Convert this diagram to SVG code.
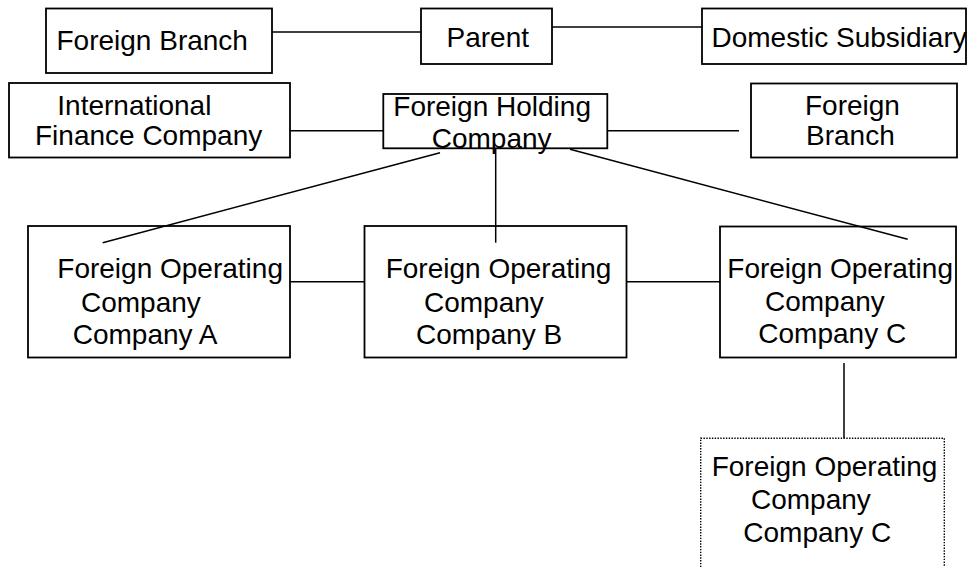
<svg xmlns="http://www.w3.org/2000/svg" width="970" height="567" viewBox="0 0 970 567">
<style>
.box{fill:#fff;stroke:#000;stroke-width:1.8}
.dot{fill:#fff;stroke:#000;stroke-width:1.4;stroke-dasharray:1.4 1.4}
.ln{stroke:#000;stroke-width:1.5;fill:none}
text{font-family:"Liberation Sans",Arial,sans-serif;font-size:28px;fill:#000}
</style>
<rect x="0" y="0" width="970" height="567" fill="#fff"/>
<g id="n-foreign-branch-top">
<rect class="box" x="46" y="8.5" width="226" height="64.5"/>
<text x="56.5" y="50">Foreign Branch</text>
</g>
<g id="n-parent">
<rect class="box" x="421" y="8.5" width="131" height="55.5"/>
<text x="446.5" y="47">Parent</text>
</g>
<g id="n-domestic">
<rect class="box" x="702" y="8.5" width="264" height="55.5"/>
<text x="711.5" y="47">Domestic Subsidiary</text>
</g>
<g id="n-ifc">
<rect class="box" x="9" y="83" width="281" height="74.5"/>
<text x="57.3" y="115">International</text>
<text x="35" y="145">Finance Company</text>
</g>
<g id="n-fhc">
<rect class="box" x="383.3" y="94" width="224" height="54.3"/>
<text x="393.3" y="115.5">Foreign Holding</text>
<text x="431.7" y="148">Company</text>
</g>
<g id="n-foreign-branch-right">
<rect class="box" x="751" y="83.5" width="206" height="74"/>
<text x="805" y="115">Foreign</text>
<text x="806" y="145">Branch</text>
</g>
<g id="n-a">
<rect class="box" x="28" y="226" width="262" height="131.5"/>
<text x="57.3" y="278">Foreign Operating</text>
<text x="81" y="311.5">Company</text>
<text x="72.7" y="344">Company A</text>
</g>
<g id="n-b">
<rect class="box" x="364.5" y="226" width="262" height="131.5"/>
<text x="385.7" y="278">Foreign Operating</text>
<text x="424" y="311.5">Company</text>
<text x="416" y="344">Company B</text>
</g>
<g id="n-c">
<rect class="box" x="720" y="226.5" width="236" height="131"/>
<text x="727.3" y="278">Foreign Operating</text>
<text x="765" y="311">Company</text>
<text x="758.3" y="343">Company C</text>
</g>
<g id="n-c2">
<rect class="dot" x="700.7" y="438.3" width="243.6" height="140"/>
<text x="711.7" y="476">Foreign Operating</text>
<text x="751" y="509.3">Company</text>
<text x="743.3" y="541.7">Company C</text>
</g>
<g id="connectors">
<line class="ln" x1="272" y1="32" x2="421" y2="32"/>
<line class="ln" x1="552" y1="27" x2="702" y2="27"/>
<line class="ln" x1="290" y1="130.7" x2="383.3" y2="130.7"/>
<line class="ln" x1="607.3" y1="130.7" x2="739" y2="130.7"/>
<line class="ln" x1="440" y1="152.7" x2="102.7" y2="242.7"/>
<line class="ln" x1="495.7" y1="148.3" x2="495.7" y2="242.7"/>
<line class="ln" x1="570" y1="149.3" x2="907.7" y2="239.3"/>
<line class="ln" x1="290" y1="281.7" x2="364.5" y2="281.7"/>
<line class="ln" x1="626.5" y1="281.7" x2="720" y2="281.7"/>
<line class="ln" x1="844" y1="363" x2="844" y2="438.3"/>
</g>
</svg>
